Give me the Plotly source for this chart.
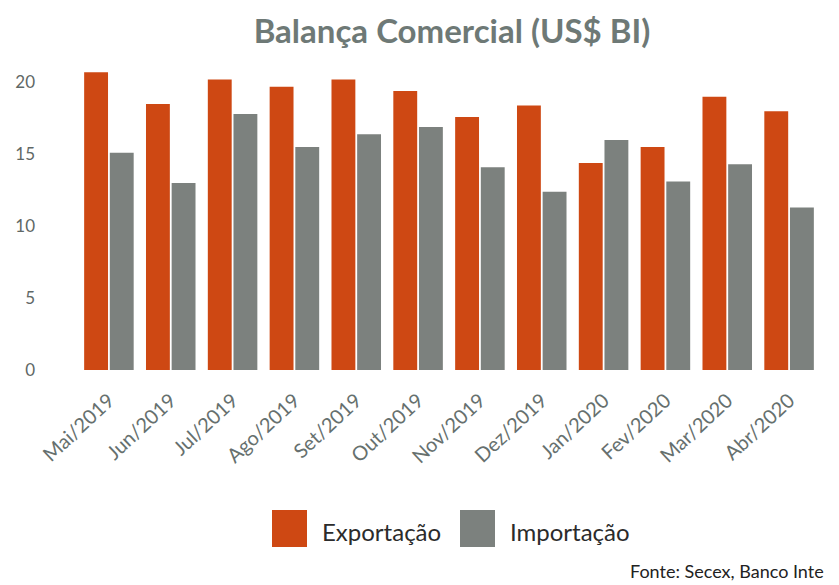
import plotly.graph_objects as go

months = ["Mai/2019", "Jun/2019", "Jul/2019", "Ago/2019", "Set/2019", "Out/2019",
          "Nov/2019", "Dez/2019", "Jan/2020", "Fev/2020", "Mar/2020", "Abr/2020"]
exportacao = [20.7, 18.5, 20.2, 19.7, 20.2, 19.4, 17.6, 18.4, 14.4, 15.5, 19.0, 18.0]
importacao = [15.1, 13.0, 17.8, 15.5, 16.4, 16.9, 14.1, 12.4, 16.0, 13.1, 14.3, 11.3]
y_ticks = [0, 5, 10, 15, 20]

ORANGE = "#CE4813"
GRAY = "#7C817E"
W, H = 839, 585

fig = go.Figure()
fig.add_trace(go.Bar(x=months, y=exportacao, name="Exportação", marker_color=ORANGE,
                     marker_line_width=0, showlegend=False))
fig.add_trace(go.Bar(x=months, y=importacao, name="Importação", marker_color=GRAY,
                     marker_line_width=0, showlegend=False))

ml, mr, mt, mb = 78, 19, 68, 215
PW, PH = W - ml - mr, H - mt - mb

fig.update_layout(
    width=W, height=H,
    margin=dict(l=ml, r=mr, t=mt, b=mb),
    paper_bgcolor="white", plot_bgcolor="white",
    barmode="group", bargap=0.17, bargroupgap=0.07,
    font=dict(family="Lato, sans-serif", color="#5F6866"),
    title=dict(text="<b>Balança Comercial (US$ BI)</b>", x=452 / W, xanchor="center",
               y=1 - 31 / H, yanchor="middle",
               font=dict(family="Lato, sans-serif", size=33, color="#6E7976")),
    xaxis=dict(showgrid=False, showline=False, zeroline=False, tickangle=-43,
               ticks="", ticklabelstandoff=14,
               tickfont=dict(size=20, color="#66706E")),
    yaxis=dict(range=[0, 21], tickvals=y_ticks, showgrid=False, showline=False,
               zeroline=False, ticks="", ticklabelstandoff=42,
               tickfont=dict(size=17, color="#5F6866")),
    showlegend=False,
)

# legend (manual, large squares)
legend_items = [("Exportação", ORANGE, 272), ("Importação", GRAY, 460)]
for name, color, x0 in legend_items:
    fig.add_shape(type="rect", xref="paper", yref="paper",
                  x0=(x0 - ml) / PW, x1=(x0 + 35 - ml) / PW,
                  y0=(H - mb - 547) / PH, y1=(H - mb - 510) / PH,
                  fillcolor=color, line_width=0)
    fig.add_annotation(text=name, xref="paper", yref="paper",
                       x=(x0 + 48 - ml) / PW, y=(H - mb - 531) / PH,
                       xanchor="left", yanchor="middle", showarrow=False,
                       font=dict(family="Lato, sans-serif", size=24, color="#2B2B2B"))

fig.add_annotation(text="Fonte: Secex, Banco Inte", xref="paper", yref="paper",
                   x=(628 - ml) / PW, y=(H - mb - 571) / PH,
                   xanchor="left", yanchor="middle", showarrow=False,
                   font=dict(family="Lato, sans-serif", size=18, color="#222222"))

fig.write_html("out.html", post_script="document.body.style.margin='0';",
               config={"displayModeBar": False})
